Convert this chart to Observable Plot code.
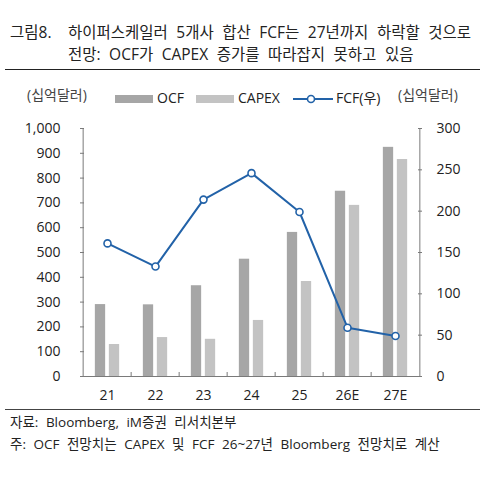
<!DOCTYPE html>
<html>
<head>
<meta charset="utf-8">
<script src="https://cdn.jsdelivr.net/npm/d3@7"></script>
<script src="https://cdn.jsdelivr.net/npm/@observablehq/plot@0.6"></script>
<style>
  body { margin: 0; background: #fff; }
  #wrap { position: relative; width: 500px; height: 478px; font-family: "Open Sans", "Noto Sans CJK KR", sans-serif; color: #222; overflow: hidden; }
  .abs { position: absolute; white-space: nowrap; line-height: 1; }
  .title { font-size: 15.5px; word-spacing: 4.5px; }
  .note { font-size: 13.5px; word-spacing: 4px; }
  .unit { font-size: 14px; color: #444; }
  .lg { font-size: 14px; }
  .sw { position: absolute; height: 8px; width: 38px; }
  .rule { position: absolute; left: 5px; width: 475px; height: 1px; background: #222; }
  #chart { position: absolute; left: 0; top: 110px; }
</style>
</head>
<body>
<div id="wrap">
  <div class="abs title" style="left:10px; top:25px;">그림8.</div>
  <div class="abs title" style="left:68px; top:25px;">하이퍼스케일러 5개사 합산 FCF는 27년까지 하락할 것으로</div>
  <div class="abs title" style="left:68px; top:47px;">전망: OCF가 CAPEX 증가를 따라잡지 못하고 있음</div>
  <div class="rule" style="top:69px;"></div>

  <div class="abs unit" style="left:27px; top:88px;">(십억달러)</div>
  <div class="abs unit" style="left:398px; top:88px;">(십억달러)</div>

  <div class="sw" style="left:115px; top:95px; background:#a6a6a6;"></div>
  <div class="abs lg" style="left:157px; top:91px;">OCF</div>
  <div class="sw" style="left:196px; top:95px; background:#c3c3c3;"></div>
  <div class="abs lg" style="left:238px; top:91px;">CAPEX</div>
  <svg class="abs" style="left:292px; top:92px;" width="42" height="14">
    <line x1="1" y1="7" x2="41" y2="7" stroke="#2262a8" stroke-width="2"/>
    <circle cx="19" cy="7" r="3.5" fill="#fff" stroke="#2262a8" stroke-width="1.6"/>
  </svg>
  <div class="abs lg" style="left:336px; top:91px;">FCF(우)</div>

  <div id="chart"></div>

  <div class="rule" style="top:409px; background:#444;"></div>
  <div class="abs note" style="left:10px; top:416px;">자료: Bloomberg, iM증권 리서치본부</div>
  <div class="abs note" style="left:10px; top:438px;">주: OCF 전망치는 CAPEX 및 FCF 26~27년 Bloomberg 전망치로 계산</div>
</div>
<script>
// Hyperscaler (5 companies) combined OCF, CAPEX (left axis) and FCF (right axis), USD bn
const categories = ["21", "22", "23", "24", "25", "26E", "27E"];
const ocf   = [290, 289, 366, 473, 581, 747, 924];
const capex = [129, 157, 150, 226, 383, 690, 875];
const fcf   = [161, 133, 214, 246, 199, 59, 49];
const leftTicks  = [0, 100, 200, 300, 400, 500, 600, 700, 800, 900, 1000];
const rightTicks = [0, 50, 100, 150, 200, 250, 300];

const rows = categories.map((c, i) => ({cat: c, ocf: ocf[i], capex: capex[i], fcf: fcf[i]}));

// the FCF series lives on the right axis: 0–300 mapped onto the left 0–1000
const k = 1000 / 300;

const W = 500, H = 296, ML = 80, MR = 79, MT = 18, MB = 30;
const bw = (W - ML - MR) / categories.length;
const axisColor = "#7a7a7a";
const blue = "#2262a8";

const chart = Plot.plot({
  width: W,
  height: H,
  marginLeft: ML,
  marginRight: MR,
  marginTop: MT,
  marginBottom: MB,
  style: {fontFamily: "'Open Sans', 'Noto Sans CJK KR', sans-serif", fontSize: "14px", color: "#222", background: "transparent"},
  x: {domain: categories, padding: 0, label: null},
  y: {domain: [0, 1000], label: null},
  marks: [
    // bars: OCF on the left half of each band, CAPEX on the right half
    Plot.barY(rows, {x: "cat", y: "ocf", fill: "#a6a6a6", insetLeft: bw / 2 - 12.5, insetRight: bw / 2 + 1.5}),
    Plot.barY(rows, {x: "cat", y: "capex", fill: "#c3c3c3", insetLeft: bw / 2 + 1.5, insetRight: bw / 2 - 12.5}),

    // axis lines
    Plot.ruleY([0], {stroke: axisColor}),
    Plot.ruleX([categories[0]], {y1: 0, y2: 1000, dx: -bw / 2, stroke: axisColor}),
    Plot.ruleX([categories[categories.length - 1]], {y1: 0, y2: 1000, dx: bw / 2, stroke: axisColor}),

    // inward ticks between categories on the bottom axis
    Plot.ruleX(categories.slice(1), {x: d => d, y1: 0, y2: 4 * 1000 / (H - MT - MB), dx: -bw / 2, stroke: axisColor}),

    // left axis
    Plot.axisY(leftTicks, {anchor: "left", tickSize: 0, tickPadding: 20, tickFormat: d3.format(","), fill: "#222"}),
    Plot.axisY(leftTicks, {anchor: "left", tickSize: -4, tickFormat: () => "", stroke: axisColor}),

    // right axis (FCF scale)
    Plot.axisY(rightTicks.map(v => v * k), {anchor: "right", tickSize: 0, tickPadding: 15, tickFormat: v => Math.round(v / k), fill: "#222"}),
    Plot.axisY(rightTicks.map(v => v * k), {anchor: "right", tickSize: -4, tickFormat: () => "", stroke: axisColor}),

    // category labels
    Plot.axisX({tickSize: 0, tickPadding: 14, fill: "#222"}),

    // FCF line with hollow markers
    Plot.line(rows, {x: "cat", y: d => d.fcf * k, stroke: blue, strokeWidth: 2}),
    Plot.dot(rows, {x: "cat", y: d => d.fcf * k, r: 3.5, fill: "#fff", stroke: blue, strokeWidth: 1.6})
  ]
});

document.getElementById("chart").appendChild(chart);
</script>
</body>
</html>
